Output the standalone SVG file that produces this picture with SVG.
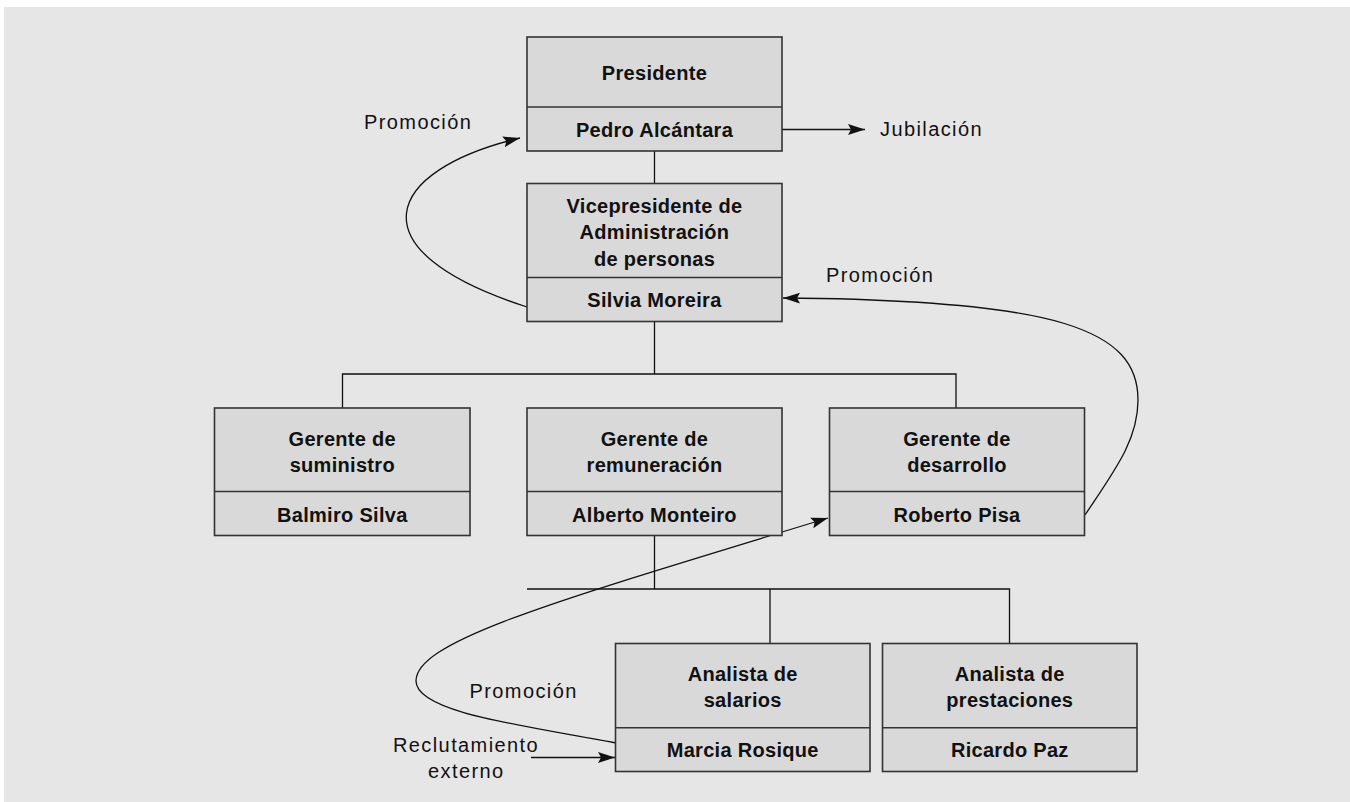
<svg xmlns="http://www.w3.org/2000/svg" width="1350" height="802" viewBox="0 0 1350 802">
<defs>
<style>
.box{fill:#d9d9d9;stroke:#333;stroke-width:1.6}
.div{stroke:#333;stroke-width:1.6}
.b{font-family:"Liberation Sans",Arial,sans-serif;font-weight:bold;font-size:20px;letter-spacing:0.3px;fill:#111;text-anchor:middle}
.r{font-family:"Liberation Sans",Arial,sans-serif;font-size:20px;letter-spacing:1.4px;fill:#111}
.c{fill:none;stroke:#111;stroke-width:1.3}
</style>
<marker id="ah" markerUnits="userSpaceOnUse" markerWidth="17" markerHeight="12" viewBox="0 0 17 12" refX="17" refY="6" orient="auto">
<path d="M0,0.5 L17,6 L0,11.5 L3,6 Z" fill="#111"/>
</marker>
</defs>
<rect x="4" y="7" width="1346" height="795" fill="#e6e6e6"/>

<g id="connectors">
<path class="c" d="M654.5,151 V183.5"/>
<path class="c" d="M654.5,321.5 V374 M342.5,408 V374 H956 V408"/>
<path class="c" d="M654.5,535.5 V589 M527,589 H1009.5 V643.5 M770,589 V643.5"/>
<path class="c" d="M782,129.5 H865" marker-end="url(#ah)"/>
<path class="c" d="M527,307 C350,250 385,170 520,138" marker-end="url(#ah)"/>
<path class="c" d="M1085,515 C1115,470 1138,440 1138,400 C1138,330 1060,300 783,298" marker-end="url(#ah)"/>
<path class="c" d="M616,743 C520,725 416,712 416,681 C416,640 560,600 828,518" marker-end="url(#ah)"/>
<path class="c" d="M531,757.5 H615" marker-end="url(#ah)"/>
</g>

<g id="presidente">
<rect class="box" x="527" y="37" width="255" height="114"/>
<line class="div" x1="527" y1="107" x2="782" y2="107"/>
<text class="b" x="654.5" y="80">Presidente</text>
<text class="b" x="654.5" y="136.5">Pedro Alcántara</text>
</g>

<g id="vicepresidente">
<rect class="box" x="527" y="183.5" width="255" height="138"/>
<line class="div" x1="527" y1="277.5" x2="782" y2="277.5"/>
<text class="b" x="654.5" y="212.5">Vicepresidente de</text>
<text class="b" x="654.5" y="239">Administración</text>
<text class="b" x="654.5" y="265.5">de personas</text>
<text class="b" x="654.5" y="306.5">Silvia Moreira</text>
</g>

<g id="gerente-suministro">
<rect class="box" x="214.5" y="408" width="255.5" height="127.5"/>
<line class="div" x1="214.5" y1="491.5" x2="470" y2="491.5"/>
<text class="b" x="342.3" y="445.5">Gerente de</text>
<text class="b" x="342.3" y="471.7">suministro</text>
<text class="b" x="342.3" y="521.5">Balmiro Silva</text>
</g>

<g id="gerente-remuneracion">
<rect class="box" x="527" y="408" width="255" height="127.5"/>
<line class="div" x1="527" y1="491.5" x2="782" y2="491.5"/>
<text class="b" x="654.5" y="445.5">Gerente de</text>
<text class="b" x="654.5" y="471.7">remuneración</text>
<text class="b" x="654.5" y="521.5">Alberto Monteiro</text>
</g>

<g id="gerente-desarrollo">
<rect class="box" x="829.5" y="408" width="255" height="127.5"/>
<line class="div" x1="829.5" y1="491.5" x2="1084.5" y2="491.5"/>
<text class="b" x="957" y="445.5">Gerente de</text>
<text class="b" x="957" y="471.7">desarrollo</text>
<text class="b" x="957" y="521.5">Roberto Pisa</text>
</g>

<g id="analista-salarios">
<rect class="box" x="615.5" y="643.5" width="254.5" height="128"/>
<line class="div" x1="615.5" y1="727.7" x2="870" y2="727.7"/>
<text class="b" x="742.7" y="680.5">Analista de</text>
<text class="b" x="742.7" y="706.7">salarios</text>
<text class="b" x="742.7" y="757.3">Marcia Rosique</text>
</g>

<g id="analista-prestaciones">
<rect class="box" x="882.5" y="643.5" width="254.5" height="128"/>
<line class="div" x1="882.5" y1="727.7" x2="1137" y2="727.7"/>
<text class="b" x="1009.8" y="680.5">Analista de</text>
<text class="b" x="1009.8" y="706.7">prestaciones</text>
<text class="b" x="1009.8" y="757.3">Ricardo Paz</text>
</g>

<g id="labels">
<text class="r" x="364" y="129.3">Promoción</text>
<text class="r" x="880" y="136">Jubilación</text>
<text class="r" x="826" y="281.5">Promoción</text>
<text class="r" x="469.5" y="698">Promoción</text>
<text class="r" x="393" y="751.7">Reclutamiento</text>
<text class="r" x="428" y="778.3">externo</text>
</g>
</svg>
